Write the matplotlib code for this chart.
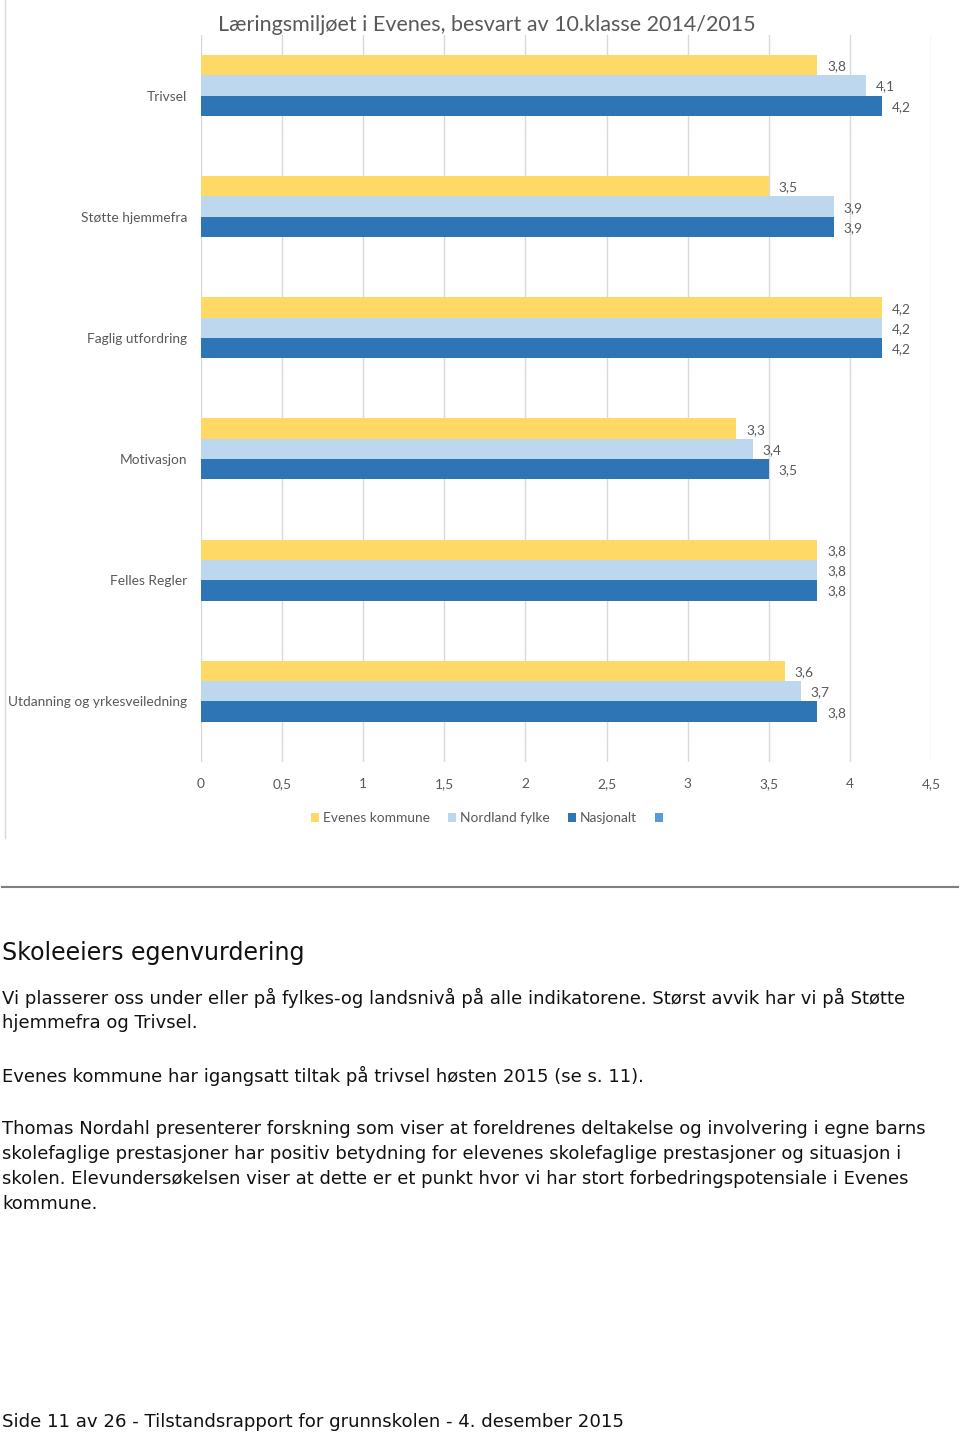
import matplotlib
matplotlib.use("Agg")
import matplotlib.pyplot as plt
from matplotlib.patches import Patch
from matplotlib.lines import Line2D
import numpy as np

# ---- data ----
categories = ["Trivsel", "Støtte hjemmefra", "Faglig utfordring", "Motivasjon",
              "Felles Regler", "Utdanning og yrkesveiledning"]
series_names = ["Evenes kommune", "Nordland fylke", "Nasjonalt", ""]
evenes = [3.8, 3.5, 4.2, 3.3, 3.8, 3.6]
nordland = [4.1, 3.9, 4.2, 3.4, 3.8, 3.7]
nasjonalt = [4.2, 3.9, 4.2, 3.5, 3.8, 3.8]
tom = [None] * 6  # empty 4th series (only appears in legend)
x_ticks = [0, 0.5, 1, 1.5, 2, 2.5, 3, 3.5, 4, 4.5]
x_ticklabels = ["0", "0,5", "1", "1,5", "2", "2,5", "3", "3,5", "4", "4,5"]

title = "Læringsmiljøet i Evenes, besvart av 10.klasse 2014/2015"
heading = "Skoleeiers egenvurdering"
body_lines = [
    (998, "Vi plasserer oss under eller på fylkes-og landsnivå på alle indikatorene. Størst avvik har vi på Støtte"),
    (1023, "hjemmefra og Trivsel."),
    (1076, "Evenes kommune har igangsatt tiltak på trivsel høsten 2015 (se s. 11)."),
    (1129, "Thomas Nordahl presenterer forskning som viser at foreldrenes deltakelse og involvering i egne barns"),
    (1154, "skolefaglige prestasjoner har positiv betydning for elevenes skolefaglige prestasjoner og situasjon i"),
    (1179, "skolen. Elevundersøkelsen viser at dette er et punkt hvor vi har stort forbedringspotensiale i Evenes"),
    (1204, "kommune."),
]
footer = "Side 11 av 26 - Tilstandsrapport for grunnskolen - 4. desember 2015"

colors = ["#FFD966", "#BDD7EE", "#2E75B6", "#5B9BD5"]
gray = "#595959"
chart_font = ["Lato", "DejaVu Sans"]
fs = 9.9

W, H = 960, 1436
fig = plt.figure(figsize=(W / 100, H / 100), dpi=100)

def fx(x):
    return x / W

def fy(y):
    return 1 - y / H

ax_left, ax_right, ax_top, ax_bot = 201, 931, 35, 762
ax = fig.add_axes([fx(ax_left), fy(ax_bot), fx(ax_right - ax_left), (ax_bot - ax_top) / H])

n = len(categories)
ypos = np.arange(n)
h = 0.1675
all_series = [evenes, nordland, nasjonalt, tom]
for j, vals in enumerate(all_series):
    if all(v is None for v in vals):
        continue
    off = (j - 1.5) * h
    bars = ax.barh(ypos + off, vals, height=h, color=colors[j], edgecolor="none", zorder=2)
    for b, v in zip(bars, vals):
        ax.annotate(f"{v:.1f}".replace(".", ","), (v, b.get_y() + b.get_height() / 2 + 0.01),
                    xytext=(7, 0), textcoords="offset points",
                    ha="left", va="center", fontsize=fs, color=gray, family=chart_font)

ax.set_xlim(0, 4.5)
ax.set_ylim(n - 0.5, -0.5)
ax.set_xticks(x_ticks)
ax.set_xticklabels(x_ticklabels, fontsize=fs, color=gray, family=chart_font)
ax.set_yticks(ypos)
ax.set_yticklabels(categories, fontsize=fs, color=gray, family=chart_font)
ax.tick_params(axis="x", length=0, pad=11.5)
ax.tick_params(axis="y", length=0, pad=10)
ax.grid(axis="x", color="#D9D9D9", linewidth=1, zorder=0)
for s in ax.spines.values():
    s.set_visible(False)
ax.set_axisbelow(True)

# title
fig.text(fx(487), fy(25), title, ha="center", va="center", fontsize=15.5, color=gray, family=chart_font)

# legend
handles = [Patch(facecolor=colors[k], edgecolor="none") for k in range(4)]
leg = fig.legend(handles, series_names, loc="center", bbox_to_anchor=(fx(489), fy(818)),
                 ncol=4, frameon=False, handlelength=0.6, handleheight=0.6, handletextpad=0.3,
                 columnspacing=1.3, prop={"family": chart_font, "size": fs})
for t in leg.get_texts():
    t.set_color(gray)

# chart frame left edge
fig.add_artist(Line2D([fx(5), fx(5)], [fy(0), fy(838)], color="#D9D9D9", linewidth=1))

# separator line
fig.add_artist(Line2D([fx(2), fx(958)], [fy(887), fy(887)], color="#7F7F7F", linewidth=1.5))

# text
fig.text(fx(2), fy(953), heading, ha="left", va="center", fontsize=17.1, color="#111111",
         family="DejaVu Sans")
for y, line in body_lines:
    fig.text(fx(2), fy(y), line, ha="left", va="center", fontsize=13.0, color="#111111",
             family="DejaVu Sans")
fig.text(fx(2), fy(1422), footer, ha="left", va="center", fontsize=13.1, color="#111111",
         family="DejaVu Sans")

fig.savefig("out.png", dpi=100, facecolor="white")
